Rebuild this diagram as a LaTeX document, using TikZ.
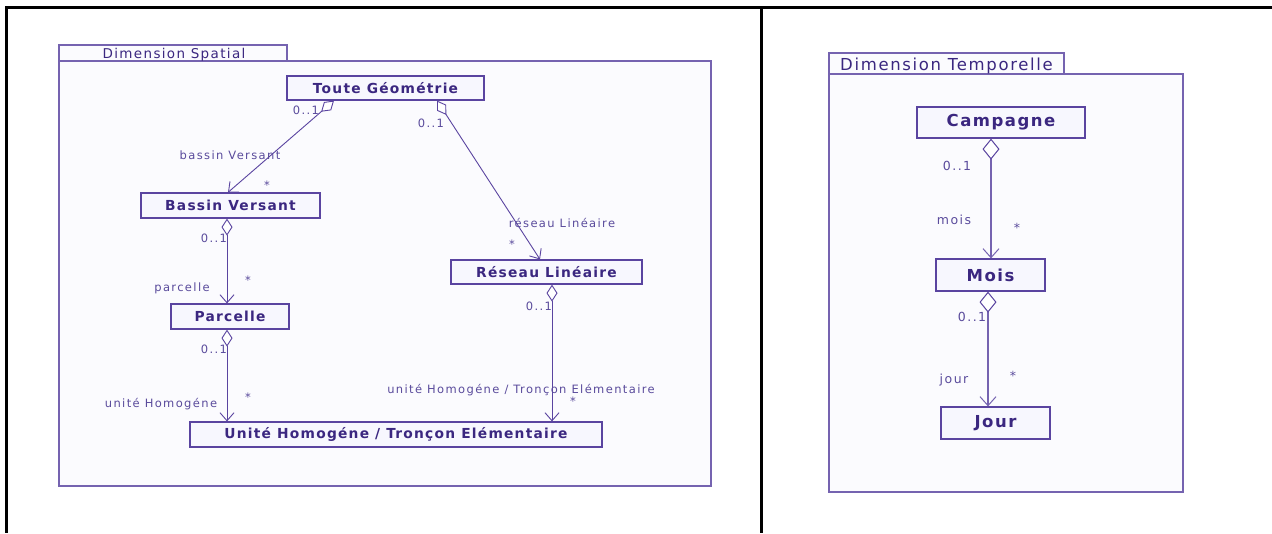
\documentclass[tikz,border=0pt]{standalone}
\usepackage{fontspec}
\setmainfont{DejaVu Sans}
\newfontfamily\lblf[LetterSpace=12]{DejaVu Sans}
\newfontfamily\clsf[LetterSpace=9]{DejaVu Sans}
\newfontfamily\pkgf[LetterSpace=10]{DejaVu Sans}
\usetikzlibrary{arrows.meta,calc}
\definecolor{linec}{HTML}{5A44A0}
\definecolor{pkgline}{HTML}{7563B0}
\definecolor{boxfill}{HTML}{F7F7FE}
\definecolor{pkgfill}{HTML}{FBFBFE}
\definecolor{clstext}{HTML}{3B2780}
\definecolor{lbltext}{HTML}{5A4B9C}
\tikzset{
  cls/.style={draw=linec, fill=boxfill, line width=1.2pt, text=clstext, inner sep=0pt,
    font=\clsf\bfseries\fontsize{13.8}{15}\selectfont},
  clsbig/.style={cls, font=\clsf\bfseries\fontsize{16.5}{18}\selectfont},
  pkg/.style={draw=pkgline, fill=pkgfill, line width=1.1pt},
  tabtext/.style={text=clstext, inner sep=0pt, anchor=base},
  lbl/.style={text=lbltext, inner sep=0pt, anchor=base, font=\lblf\fontsize{11.5}{13}\selectfont},
  lblbig/.style={lbl, font=\lblf\fontsize{12.5}{14}\selectfont},
  agg/.style={draw=linec, line width=0.9pt,
    {Diamond[length=17pt,width=11pt,fill=white,line width=0.9pt]}-{Straight Barb[length=8pt,width=14pt,line width=0.9pt]}},
  aggbig/.style={draw=pkgline, line width=1.4pt,
    {Diamond[length=21pt,width=17pt,fill=white,line width=1pt,color=linec]}-{Straight Barb[length=9pt,width=16pt,line width=1pt]}},
  frame/.style={draw=black, line width=3pt}
}
\begin{document}
\begin{tikzpicture}[x=1pt,y=-1pt]
\useasboundingbox (0,0) rectangle (1272,533);
\fill[white] (0,0) rectangle (1272,533);
% outer table lines
\draw[frame] (5,7) -- (1272,7);
\draw[frame] (6,7) -- (6,533);
\draw[frame] (761,7) -- (761,533);

% left package
\draw[pkg] (59,61) rectangle (711,486);
\draw[pkg] (59,45) rectangle (287,61);
\node[tabtext, font=\pkgf\fontsize{13.5}{15}\selectfont] (tabL) at (174,58) {Dimension Spatial};

% right package
\draw[pkg] (829,74) rectangle (1183,492);
\draw[pkg] (829,53) rectangle (1064,74);
\node[tabtext, font=\pkgf\fontsize{16.5}{18}\selectfont] (tabR) at (946.5,70) {Dimension Temporelle};

% classes left
\node[cls, minimum width=197pt, minimum height=24pt] (tg) at (385.5,88) {Toute Géométrie};
\node[cls, minimum width=179pt, minimum height=25pt] (bv) at (230.5,205.5) {Bassin Versant};
\node[cls, minimum width=118pt, minimum height=25pt] (pa) at (230,316.5) {Parcelle};
\node[cls, minimum width=412pt, minimum height=25pt] (uh) at (396,434.5) {Unité Homogéne / Tronçon Elémentaire};
\node[cls, minimum width=191pt, minimum height=24pt] (rl) at (546.5,272) {Réseau Linéaire};

% classes right
\node[clsbig, minimum width=168pt, minimum height=31pt] (ca) at (1001,122.5) {Campagne};
\node[clsbig, minimum width=109pt, minimum height=32pt] (mo) at (990.5,275) {Mois};
\node[clsbig, minimum width=109pt, minimum height=32pt] (jo) at (995.5,423) {Jour};

% connectors left
\draw[agg] ([xshift=-51.5pt]tg.south) -- ([xshift=-2.5pt]bv.north);
\draw[agg] ([xshift=51.5pt]tg.south) -- ([xshift=-6.5pt]rl.north);
\draw[agg] ([xshift=-3.5pt]bv.south) -- ([xshift=-3.5pt]bv.south |- pa.north);
\draw[agg] ([xshift=-3pt]pa.south) -- ([xshift=-3pt]pa.south |- uh.north);
\draw[agg] ([xshift=5.5pt]rl.south) -- ([xshift=5.5pt]rl.south |- uh.north);

% connectors right
\draw[aggbig] ([xshift=-10pt]ca.south) -- ([xshift=-10pt]ca.south |- mo.north);
\draw[aggbig] ([xshift=-2.5pt]mo.south) -- ([xshift=-2.5pt]mo.south |- jo.north);

% labels left
\node[lbl] (m1) at (306,114) {0..1};
\node[lbl] (l1) at (230,159) {bassin Versant};
\node[lbl] (s1) at (267,189) {*};
\node[lbl] (m2) at (431,127) {0..1};
\node[lbl] (l2) at (562,227) {réseau Linéaire};
\node[lbl] (s2) at (512,248) {*};
\node[lbl] (m3) at (214,242) {0..1};
\node[lbl] (s3) at (248,284) {*};
\node[lbl] (l3) at (182,291) {parcelle};
\node[lbl] (m4) at (214,353) {0..1};
\node[lbl] (s4) at (248,401) {*};
\node[lbl] (l4) at (161,407) {unité Homogéne};
\node[lbl] (m5) at (539,310) {0..1};
\node[lbl] (l5) at (521,393) {unité Homogéne / Tronçon Elémentaire};
\node[lbl] (s5) at (573,405) {*};

% labels right
\node[lblbig] (m6) at (957,170) {0..1};
\node[lblbig] (l6) at (954,224) {mois};
\node[lblbig] (s6) at (1017,232) {*};
\node[lblbig] (m7) at (972,321) {0..1};
\node[lblbig] (l7) at (954,383) {jour};
\node[lblbig] (s7) at (1013,380) {*};
\end{tikzpicture}
\end{document}
